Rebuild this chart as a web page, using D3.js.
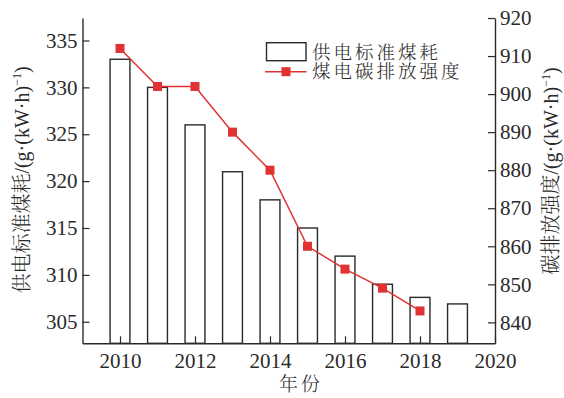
<!DOCTYPE html>
<html>
<head>
<meta charset="utf-8">
<script src="https://cdn.jsdelivr.net/npm/d3@7/dist/d3.min.js"></script>
<style>
  html, body { margin: 0; padding: 0; background: #fff; }
  svg { display: block; }
  .tick text { font-family: "Liberation Serif", "Times New Roman", serif; font-size: 21px; fill: #2a2a2a; }
  .cjk { font-family: "Noto Serif CJK SC", "Noto Sans CJK SC", sans-serif; font-weight: 300; fill: #2a2a2a; }
  .lat { font-family: "Liberation Serif", "Times New Roman", serif; }
</style>
</head>
<body>
<svg id="chart" width="564" height="398"></svg>
<script>
// Years and values
const years = [2010, 2011, 2012, 2013, 2014, 2015, 2016, 2017, 2018, 2019];
const coalUse = [333, 330, 326, 321, 318, 315, 312, 309, 307.6, 306.9];          // g/(kW·h)
const carbonYears = [2010, 2011, 2012, 2013, 2014, 2015, 2016, 2017, 2018];
const carbonIntensity = [912, 902, 902, 890, 880, 860, 854, 849, 843];           // g/(kW·h)
const xTicks = [2010, 2012, 2014, 2016, 2018, 2020];
const leftTicks = [305, 310, 315, 320, 325, 330, 335];
const rightTicks = [840, 850, 860, 870, 880, 890, 900, 910, 920];
const barLabel = "供电标准煤耗";
const lineLabel = "煤电碳排放强度";

const svg = d3.select("#chart");
const L = 82.5, R = 495, T = 18, B = 343.3;
const ink = "#2a2a2a", red = "#e03232";

const x = d3.scaleLinear().domain([2009, 2020]).range([L, R]);
const yL = d3.scaleLinear().domain([302.7, 337.4]).range([B, T]);
const yR = d3.scaleLinear().domain([834.5, 920]).range([B, T]);
const barW = x(2009.53) - x(2009);

// bars
svg.append("g").selectAll("rect").data(years).join("rect")
  .attr("x", d => x(d) - barW / 2)
  .attr("y", (d, i) => yL(coalUse[i]))
  .attr("width", barW)
  .attr("height", (d, i) => B - yL(coalUse[i]))
  .attr("fill", "#fff").attr("stroke", ink).attr("stroke-width", 1.4);

// axes with inward ticks
function styleAxis(g) {
  g.select(".domain").attr("stroke", ink).attr("stroke-width", 1.4);
  g.selectAll(".tick line").attr("stroke", ink).attr("stroke-width", 1.2);
}
svg.append("g").attr("transform", `translate(0,${B})`)
  .call(d3.axisBottom(x).tickValues(xTicks).tickFormat(d3.format("d")).tickSizeInner(-7).tickSizeOuter(0).tickPadding(10))
  .call(styleAxis);
svg.append("g").attr("transform", `translate(${L},0)`)
  .call(d3.axisLeft(yL).tickValues(leftTicks).tickSizeInner(-7).tickSizeOuter(0).tickPadding(5))
  .call(styleAxis);
svg.append("g").attr("transform", `translate(${R},0)`)
  .call(d3.axisRight(yR).tickValues(rightTicks).tickSizeInner(-7).tickSizeOuter(0).tickPadding(5))
  .call(styleAxis);
svg.selectAll(".tick text").attr("fill", ink);

// carbon intensity line
const line = d3.line().x((d, i) => x(carbonYears[i])).y(d => yR(d));
svg.append("path").datum(carbonIntensity)
  .attr("d", line).attr("fill", "none").attr("stroke", red).attr("stroke-width", 1.5);
svg.append("g").selectAll("rect").data(carbonIntensity).join("rect")
  .attr("x", (d, i) => x(carbonYears[i]) - 4.5)
  .attr("y", d => yR(d) - 4.5)
  .attr("width", 9).attr("height", 9).attr("fill", red);

// axis titles
function unitTitle(g, cn) {
  const t = g.append("text").attr("text-anchor", "middle");
  t.append("tspan").attr("class", "cjk").attr("font-size", 20).text(cn);
  t.append("tspan").attr("class", "lat").attr("font-size", 20).attr("fill", ink).text("/(g·(kW·h)");
  t.append("tspan").attr("class", "lat").attr("font-size", 12).attr("fill", ink).attr("dy", -8).text("−1");
  t.append("tspan").attr("class", "lat").attr("font-size", 20).attr("fill", ink).attr("dy", 8).text(")");
  return t;
}
unitTitle(svg.append("g").attr("transform", "translate(29,180) rotate(-90)"), "供电标准煤耗");
unitTitle(svg.append("g").attr("transform", "translate(558,171) rotate(-90)"), "碳排放强度");

svg.append("text").attr("class", "cjk").attr("font-size", 19).attr("letter-spacing", 3)
  .attr("x", 301).attr("y", 391).attr("text-anchor", "middle").text("年份");

// legend
const lg = svg.append("g");
lg.append("rect").attr("x", 266.5).attr("y", 42.7).attr("width", 39.5).attr("height", 18)
  .attr("fill", "#fff").attr("stroke", ink).attr("stroke-width", 1.4);
lg.append("text").attr("class", "cjk").attr("font-size", 18.5).attr("letter-spacing", 3)
  .attr("x", 312).attr("y", 58.6).text(barLabel);
lg.append("line").attr("x1", 265).attr("x2", 306.5).attr("y1", 71.7).attr("y2", 71.7)
  .attr("stroke", red).attr("stroke-width", 1.5);
lg.append("rect").attr("x", 286 - 4.5).attr("y", 71.7 - 4.5).attr("width", 9).attr("height", 9).attr("fill", red);
lg.append("text").attr("class", "cjk").attr("font-size", 18.5).attr("letter-spacing", 3)
  .attr("x", 312).attr("y", 78.4).text(lineLabel);
</script>
</body>
</html>
